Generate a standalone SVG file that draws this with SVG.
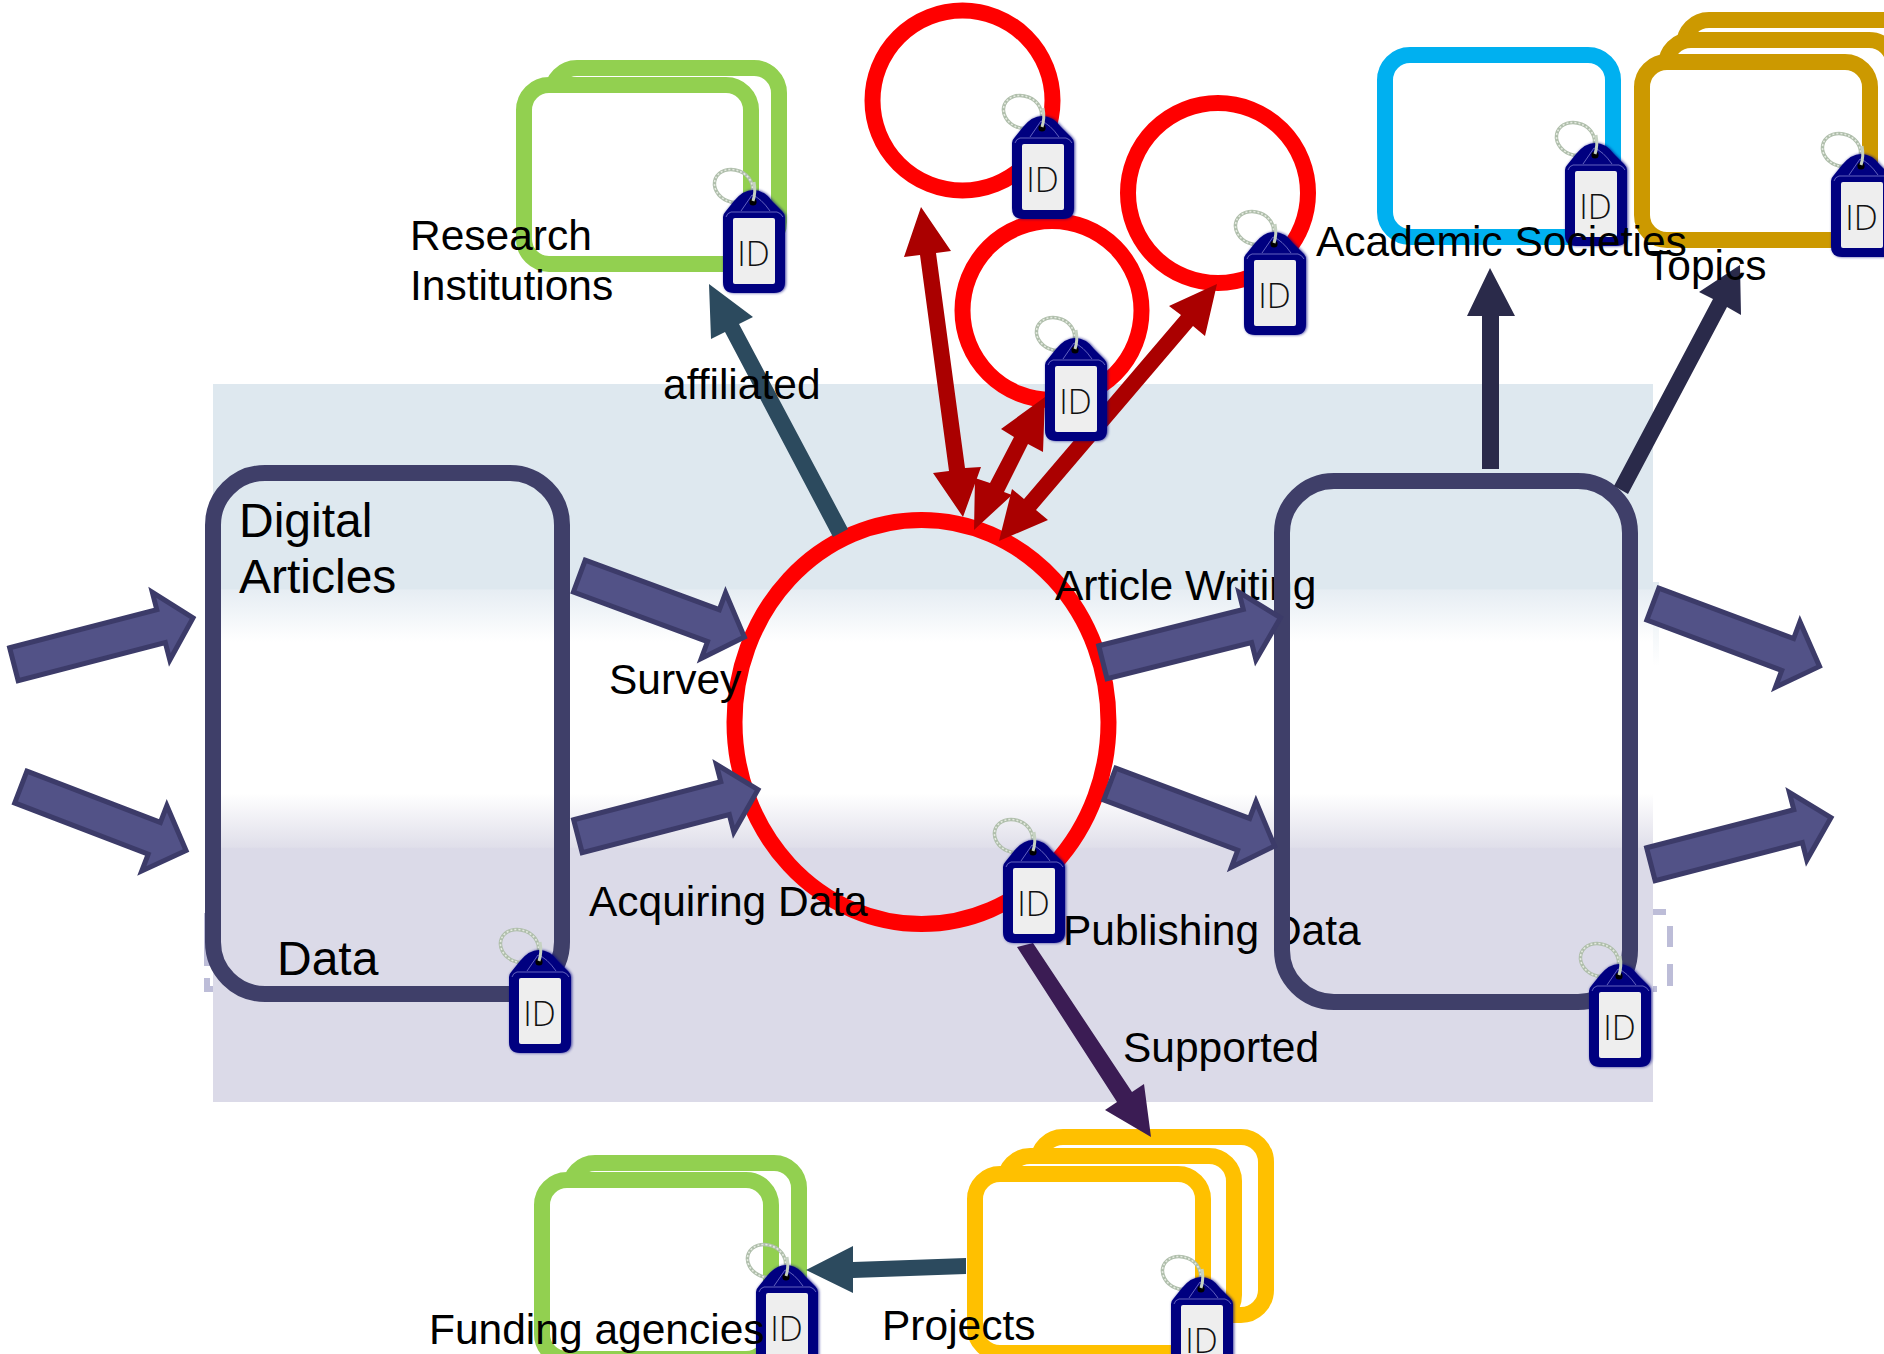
<svg xmlns="http://www.w3.org/2000/svg" xmlns:xlink="http://www.w3.org/1999/xlink" width="1884" height="1354" viewBox="0 0 1884 1354">
<style>
.lbl{font-family:"Liberation Sans",Arial,sans-serif;font-size:42.5px;fill:#000}
.big{font-size:48px}
.idt{font-family:"Open Sans","Noto Sans",sans-serif;font-weight:300;font-size:34px;fill:#111;text-anchor:middle}
.box{stroke-width:16;fill:#fff}
.green{stroke:#92D050}.gold{stroke:#CC9900}.yellow{stroke:#FFC000}.blue{stroke:#00B0F0}
.ring{fill:none;stroke:#FF0000;stroke-width:16}
.proc{fill:none;stroke:#3F3F69;stroke-width:16}
.flow{fill:#525287;stroke:#3C3B69;stroke-width:5;stroke-linejoin:miter;stroke-miterlimit:10}
.dred{fill:#AA0000}.teal{fill:#2C4A5E}.navy{fill:#2A2A4A}.plum{fill:#3B1C54}
</style>
<defs>
<linearGradient id="bandGrad" gradientUnits="userSpaceOnUse" x1="0" y1="384" x2="0" y2="1102">
<stop offset="0" stop-color="#DEE8EF"/><stop offset=".285" stop-color="#DEE8EF"/><stop offset=".287" stop-color="#E6EDF3"/><stop offset=".36" stop-color="#FFFFFF"/><stop offset=".57" stop-color="#FFFFFF"/><stop offset=".645" stop-color="#E0DFEA"/><stop offset=".647" stop-color="#DBDAE8"/><stop offset="1" stop-color="#DBDAE8"/>
</linearGradient>
<linearGradient id="edgeGrad" x1="0" y1="0" x2="0" y2="1"><stop offset="0" stop-color="#E2EBF1"/><stop offset="1" stop-color="#FFFFFF"/></linearGradient>
<filter id="soft" x="-15%" y="-15%" width="130%" height="130%"><feGaussianBlur stdDeviation="1.6"/></filter>
<path id="tagBody" d="M0 27Q0 24 3 21L11 11Q20 0 30 0Q41 0 49 11L59 21Q62 24 62 27V92Q62 103 51 103H11Q0 103 0 92Z"/>
<g id="tagShape">
<ellipse cx="10.5" cy="-4" rx="19.5" ry="16" transform="rotate(22 10.5 -4)" fill="none" stroke="#AFBEAB" stroke-width="3.5"/>
<ellipse cx="10.5" cy="-4" rx="19.5" ry="16" transform="rotate(22 10.5 -4)" fill="none" stroke="#E4EAE0" stroke-width="1.6" stroke-dasharray="2 2"/>
<use xlink:href="#tagBody" href="#tagBody" fill="#000080" filter="url(#soft)" opacity=".75" transform="translate(1 0)"/>
<use xlink:href="#tagBody" href="#tagBody" fill="#000080"/>
<path d="M3 27Q4 23 8 22H54Q58 23 60 27M18 21L29 5Q38 8 47 21" fill="none" stroke="#8C8CD8" stroke-width=".7"/>
<rect x="10" y="28" width="42" height="66" rx="2" fill="#EEEEEE"/>
<circle cx="30" cy="12" r="3.6" fill="#000"/>
<path d="M31 -8Q33 2 30 11" fill="none" stroke="#C6D2C2" stroke-width="3"/>
</g>
</defs>
<rect width="1884" height="1354" fill="#fff"/>
<g id="background">
<path d="M207 913V966M207 978V989H213M1653 912H1666M1670 926V947M1670 964V986M1653 989H1657" fill="none" stroke="#BDBDD8" stroke-width="6"/>
<rect x="213" y="384" width="1440" height="718" fill="url(#bandGrad)"/>
<rect x="1653" y="582" width="6" height="84" fill="url(#edgeGrad)"/>
</g>
<g id="node-research-institutions">
<rect class="box green" x="552" y="68" width="227" height="179" rx="25"/>
<rect class="box green" x="524" y="85" width="227" height="179" rx="25"/>
</g>
<g id="node-academic-societies"><rect class="box blue" x="1385" y="55" width="228" height="182" rx="25"/></g>
<g id="node-topics">
<rect class="box gold" x="1684" y="20" width="228" height="178" rx="25"/>
<rect class="box gold" x="1666" y="40" width="228" height="178" rx="25"/>
<rect class="box gold" x="1642" y="62" width="228" height="178" rx="25"/>
</g>
<g id="node-funding-agencies">
<rect class="box green" x="570" y="1163" width="229" height="179" rx="25"/>
<rect class="box green" x="542" y="1180" width="229" height="179" rx="25"/>
</g>
<g id="node-projects">
<rect class="box yellow" x="1038" y="1137" width="228" height="178" rx="25"/>
<rect class="box yellow" x="1005" y="1156" width="229" height="164" rx="25"/>
<rect class="box yellow" x="975" y="1174" width="228" height="179" rx="25"/>
</g>
<g id="node-circle-top"><circle class="ring" cx="962.5" cy="100.5" r="90"/></g>
<g id="node-circle-middle"><circle class="ring" cx="1052" cy="310.5" r="89.5"/></g>
<g id="node-circle-right"><circle class="ring" cx="1218" cy="193" r="90"/></g>
<g id="node-activity"><ellipse class="ring" cx="921.5" cy="722" rx="187" ry="202"/></g>
<g id="node-digital-articles"><rect class="proc" x="213" y="473" width="349" height="521" rx="52"/></g>
<g id="labels-under">
<text class="lbl" x="1055" y="600">Article Writing</text>
<text class="lbl" x="1063" y="945">Publishing Data</text>
</g>
<g id="node-output"><rect class="proc" x="1282" y="481" width="348" height="521" rx="52"/></g>
<g id="connectors">
<polygon class="flow" transform="translate(11 665) rotate(-14.5)" points="3,-17 155,-17 155,-35 188,0 155,35 155,17 3,17"/>
<polygon class="flow" transform="translate(18 786) rotate(21)" points="3,-17 146,-17 146,-35 180,0 146,35 146,17 3,17"/>
<polygon class="flow" transform="translate(576.5 575) rotate(20.3)" points="3,-17 146,-17 146,-35 179,0 146,35 146,17 3,17"/>
<polygon class="flow" transform="translate(575 837) rotate(-14.5)" points="3,-17 155,-17 155,-35 189,0 155,35 155,17 3,17"/>
<polygon class="flow" transform="translate(1100 663) rotate(-14.1)" points="3,-17 152,-17 152,-35 186,0 152,35 152,17 3,17"/>
<polygon class="flow" transform="translate(1107 783) rotate(20.6)" points="3,-17 146,-17 146,-35 179,0 146,35 146,17 3,17"/>
<polygon class="flow" transform="translate(1650 603) rotate(20.5)" points="3,-17 147,-17 147,-35 181,0 147,35 147,17 3,17"/>
<polygon class="flow" transform="translate(1648 865) rotate(-14.5)" points="3,-17 155,-17 155,-35 189,0 155,35 155,17 3,17"/>
<polygon class="dred" points="921,207 951,251 936,253 965,468 981,467 963,517 933,473 949,471 920,255 904,257"/>
<polygon class="dred" points="1045,397 1043,452 1028,444 1004,492 1012,495 974,530 975,478 990,483 1014,437 1001,429"/>
<polygon class="dred" points="1217,284 1205,336 1193,326 1036,510 1048,520 999,541 1012,489 1024,499 1181,315 1169,306"/>
<polygon class="teal" points="709,284 753,317 739,324 848,529 833,537 725,332 711,339"/>
<polygon class="teal" points="806,1270 853,1246 853,1262 966,1258 966,1274 853,1278 853,1293"/>
<polygon class="navy" points="1490,268 1515,316 1499,316 1499,469 1482,469 1482,316 1467,316"/>
<polygon class="navy" points="1740,265 1741,315 1727,307 1628,494 1614,486 1713,299 1699,292"/>
<polygon class="plum" points="1151,1137 1105,1110 1117,1102 1017,947 1033,943 1132,1092 1144,1084"/>
</g>
<g id="tag-research" transform="translate(723 190)"><use xlink:href="#tagShape" href="#tagShape"/><text class="idt" x="30.5" y="76">ID</text></g>
<g id="tag-circle-top" transform="translate(1012 116)"><use xlink:href="#tagShape" href="#tagShape"/><text class="idt" x="30.5" y="76">ID</text></g>
<g id="tag-circle-middle" transform="translate(1045 338)"><use xlink:href="#tagShape" href="#tagShape"/><text class="idt" x="30.5" y="76">ID</text></g>
<g id="tag-circle-right" transform="translate(1244 232)"><use xlink:href="#tagShape" href="#tagShape"/><text class="idt" x="30.5" y="76">ID</text></g>
<g id="tag-academic" transform="translate(1565 143)"><use xlink:href="#tagShape" href="#tagShape"/><text class="idt" x="30.5" y="76">ID</text></g>
<g id="tag-topics" transform="translate(1831 154)"><use xlink:href="#tagShape" href="#tagShape"/><text class="idt" x="30.5" y="76">ID</text></g>
<g id="tag-activity" transform="translate(1003 840)"><use xlink:href="#tagShape" href="#tagShape"/><text class="idt" x="30.5" y="76">ID</text></g>
<g id="tag-data" transform="translate(509 950)"><use xlink:href="#tagShape" href="#tagShape"/><text class="idt" x="30.5" y="76">ID</text></g>
<g id="tag-output" transform="translate(1589 964)"><use xlink:href="#tagShape" href="#tagShape"/><text class="idt" x="30.5" y="76">ID</text></g>
<g id="tag-funding" transform="translate(756 1265)"><use xlink:href="#tagShape" href="#tagShape"/><text class="idt" x="30.5" y="76">ID</text></g>
<g id="tag-projects" transform="translate(1171 1277)"><use xlink:href="#tagShape" href="#tagShape"/><text class="idt" x="30.5" y="76">ID</text></g>
<g id="labels">
<text class="lbl" x="410" y="250">Research</text>
<text class="lbl" x="410" y="300">Institutions</text>
<text class="lbl" x="663" y="399">affiliated</text>
<text class="lbl" x="1316" y="256">Academic Societies</text>
<text class="lbl" x="1646" y="280">Topics</text>
<text class="lbl big" x="239" y="537">Digital</text>
<text class="lbl big" x="239" y="593">Articles</text>
<text class="lbl big" x="277" y="975">Data</text>
<text class="lbl" x="609" y="694">Survey</text>
<text class="lbl" x="589" y="916">Acquiring Data</text>
<text class="lbl" x="1123" y="1062">Supported</text>
<text class="lbl" x="429" y="1344">Funding agencies</text>
<text class="lbl" x="882" y="1340">Projects</text>
</g>
</svg>
